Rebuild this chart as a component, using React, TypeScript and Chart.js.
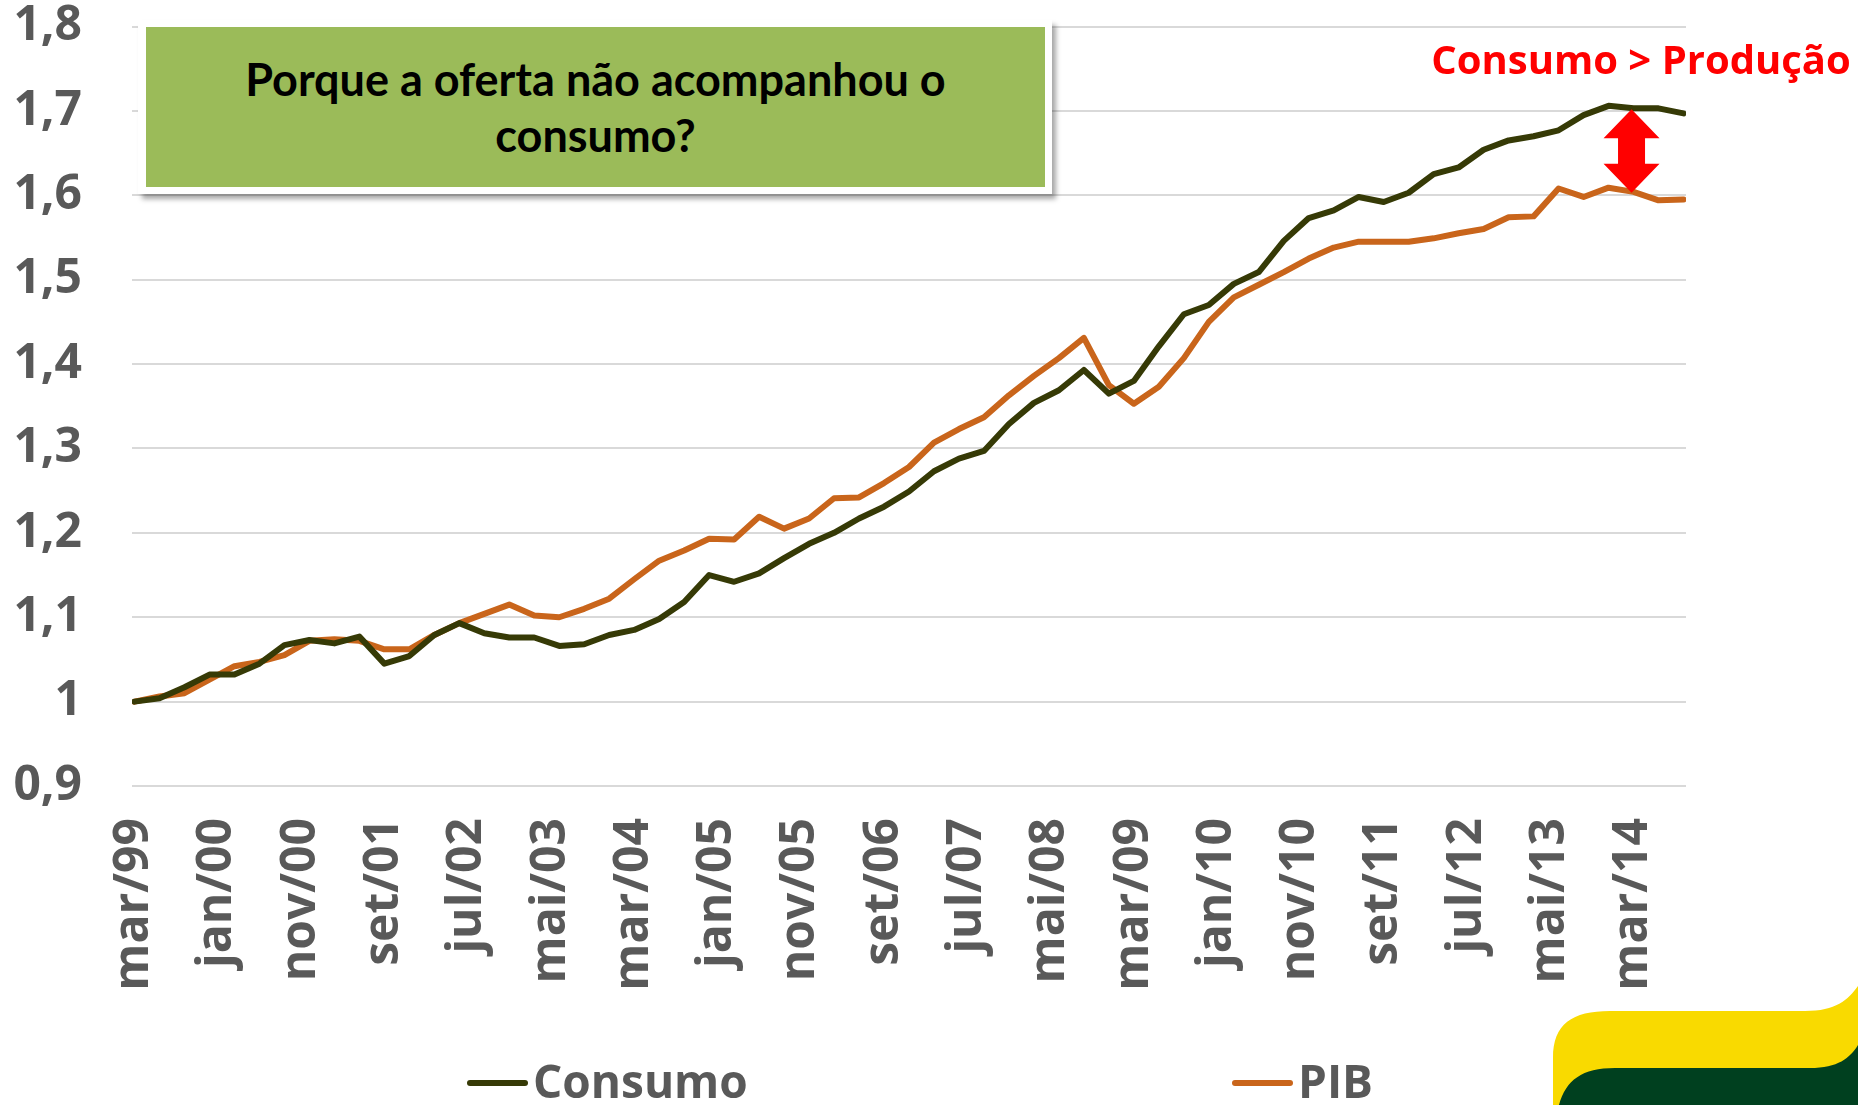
import React, { useEffect, useRef } from "react";
import { Chart, registerables } from "chart.js";

Chart.register(...registerables);

const MONTHS = ["jan", "fev", "mar", "abr", "mai", "jun", "jul", "ago", "set", "out", "nov", "dez"];

const quarterLabels = [
  "mar/99", "jun/99", "set/99", "dez/99",
  "mar/00", "jun/00", "set/00", "dez/00",
  "mar/01", "jun/01", "set/01", "dez/01",
  "mar/02", "jun/02", "set/02", "dez/02",
  "mar/03", "jun/03", "set/03", "dez/03",
  "mar/04", "jun/04", "set/04", "dez/04",
  "mar/05", "jun/05", "set/05", "dez/05",
  "mar/06", "jun/06", "set/06", "dez/06",
  "mar/07", "jun/07", "set/07", "dez/07",
  "mar/08", "jun/08", "set/08", "dez/08",
  "mar/09", "jun/09", "set/09", "dez/09",
  "mar/10", "jun/10", "set/10", "dez/10",
  "mar/11", "jun/11", "set/11", "dez/11",
  "mar/12", "jun/12", "set/12", "dez/12",
  "mar/13", "jun/13", "set/13", "dez/13",
  "mar/14", "jun/14", "set/14",
];

const consumo = [
  1.000, 1.004, 1.017, 1.032,
  1.032, 1.045, 1.067, 1.073,
  1.069, 1.077, 1.045, 1.054,
  1.079, 1.093, 1.081, 1.076,
  1.076, 1.066, 1.068, 1.079,
  1.085, 1.098, 1.118, 1.150,
  1.142, 1.152, 1.170, 1.187,
  1.200, 1.217, 1.231, 1.249,
  1.273, 1.288, 1.297, 1.329,
  1.354, 1.369, 1.393, 1.365,
  1.380, 1.421, 1.459, 1.470,
  1.495, 1.509, 1.546, 1.573,
  1.582, 1.598, 1.592, 1.603,
  1.625, 1.633, 1.654, 1.665,
  1.670, 1.677, 1.695, 1.706,
  1.703, 1.703, 1.697,
];

const pib = [
  1.000, 1.006, 1.010, 1.026,
  1.042, 1.047, 1.055, 1.072,
  1.074, 1.072, 1.062, 1.062,
  1.079, 1.093, 1.104, 1.115,
  1.102, 1.100, 1.110, 1.122,
  1.145, 1.167, 1.179, 1.193,
  1.192, 1.219, 1.205, 1.217,
  1.241, 1.242, 1.259, 1.278,
  1.307, 1.323, 1.337, 1.363,
  1.386, 1.407, 1.431, 1.375,
  1.353, 1.373, 1.407, 1.450,
  1.479, 1.494, 1.509, 1.525,
  1.538, 1.545, 1.545, 1.545,
  1.549, 1.555, 1.560, 1.574,
  1.575, 1.608, 1.598, 1.609,
  1.604, 1.594, 1.595,
];

const xTickLabels = [
  "mar/99", "jan/00", "nov/00", "set/01", "jul/02", "mai/03", "mar/04",
  "jan/05", "nov/05", "set/06", "jul/07", "mai/08", "mar/09", "jan/10",
  "nov/10", "set/11", "jul/12", "mai/13", "mar/14",
];

const yTickValues = [0.9, 1.0, 1.1, 1.2, 1.3, 1.4, 1.5, 1.6, 1.7, 1.8];
const yTickLabels = ["0,9", "1", "1,1", "1,2", "1,3", "1,4", "1,5", "1,6", "1,7", "1,8"];

const seriesNames = ["Consumo", "PIB"];
const seriesColors = ["#363A06", "#C9651B"];

const titleLines = ["Porque a oferta não acompanhou o", "consumo?"];
const gapLabel = "Consumo > Produção";
const gapArrowAt = "mar/14";
const gapArrowFrom = 1.702;
const gapArrowTo = 1.603;

function monthOffset(label: string): number {
  const [m, y] = label.split("/");
  const yy = parseInt(y, 10);
  const year = yy > 50 ? 1900 + yy : 2000 + yy;
  return (year - 1999) * 12 + MONTHS.indexOf(m) - 2;
}

const arrowPlugin = {
  id: "gapArrow",
  afterDatasetsDraw(chart: any) {
    const { ctx, scales } = chart;
    const x = scales.x.getPixelForValue(monthOffset(gapArrowAt)) - 2;
    const yTop = scales.y.getPixelForValue(gapArrowFrom);
    const yBot = scales.y.getPixelForValue(gapArrowTo);
    const hw = 28;
    const sw = 13.5;
    const hl = 29;
    ctx.save();
    ctx.fillStyle = "#FF0000";
    ctx.beginPath();
    ctx.moveTo(x, yTop);
    ctx.lineTo(x + hw, yTop + hl);
    ctx.lineTo(x + sw, yTop + hl);
    ctx.lineTo(x + sw, yBot - hl);
    ctx.lineTo(x + hw, yBot - hl);
    ctx.lineTo(x, yBot);
    ctx.lineTo(x - hw, yBot - hl);
    ctx.lineTo(x - sw, yBot - hl);
    ctx.lineTo(x - sw, yTop + hl);
    ctx.lineTo(x - hw, yTop + hl);
    ctx.closePath();
    ctx.fill();
    ctx.restore();
  },
};

const logoPlugin = {
  id: "logo",
  afterDraw(chart: any) {
    const { ctx } = chart;
    ctx.save();
    ctx.fillStyle = "#F9DA00";
    ctx.beginPath();
    ctx.moveTo(1553, 1105);
    ctx.lineTo(1553, 1058);
    ctx.bezierCurveTo(1553, 1024, 1572, 1011, 1610, 1011);
    ctx.lineTo(1805, 1011);
    ctx.bezierCurveTo(1836, 1011, 1848, 1000, 1858, 986);
    ctx.lineTo(1858, 1105);
    ctx.closePath();
    ctx.fill();
    ctx.fillStyle = "#00401F";
    ctx.beginPath();
    ctx.moveTo(1559, 1105);
    ctx.bezierCurveTo(1566, 1080, 1582, 1068, 1615, 1068);
    ctx.lineTo(1810, 1068);
    ctx.bezierCurveTo(1838, 1068, 1850, 1058, 1858, 1045);
    ctx.lineTo(1858, 1105);
    ctx.closePath();
    ctx.fill();
    ctx.restore();
  },
};

export default function App() {
  const canvasRef = useRef<HTMLCanvasElement | null>(null);

  useEffect(() => {
    const canvas = canvasRef.current;
    if (!canvas) return;
    const tickFont = { family: "'Open Sans', sans-serif", weight: "bold" as const, size: 48 };
    const chart = new Chart(canvas, {
      type: "line",
      data: {
        datasets: [consumo, pib].map((series, si) => ({
          label: seriesNames[si],
          data: quarterLabels.map((q, i) => ({ x: monthOffset(q), y: series[i] })),
          borderColor: seriesColors[si],
          backgroundColor: seriesColors[si],
          borderWidth: 6,
          pointRadius: 0,
          pointHoverRadius: 0,
          tension: 0,
          borderJoinStyle: "round" as const,
          borderCapStyle: "round" as const,
          fill: false,
        })),
      },
      options: {
        animation: false,
        responsive: false,
        maintainAspectRatio: false,
        events: [],
        layout: { padding: { top: 26.5, right: 172, bottom: 0, left: 0 } },
        plugins: {
          legend: { display: false },
          tooltip: { enabled: false },
          title: { display: false },
        },
        scales: {
          x: {
            type: "linear",
            min: -0.3,
            max: 186.3,
            grid: { display: false },
            border: { display: false },
            afterBuildTicks: (s: any) => {
              s.ticks = xTickLabels.map((l) => ({ value: monthOffset(l) }));
            },
            afterFit: (s: any) => {
              s.height = 319;
              s.paddingLeft = 0;
              s.paddingRight = 0;
            },
            ticks: {
              autoSkip: false,
              minRotation: 90,
              maxRotation: 90,
              padding: 24,
              color: "#595959",
              font: { ...tickFont, lineHeight: 1.2 },
              callback: (_v: any, i: number) => xTickLabels[i],
            },
          },
          y: {
            type: "linear",
            min: 0.9,
            max: 1.8,
            afterBuildTicks: (s: any) => {
              s.ticks = yTickValues.map((v) => ({ value: v }));
            },
            afterFit: (s: any) => {
              s.width = 132;
              s.paddingTop = 0;
              s.paddingBottom = 0;
            },
            grid: { color: "#D9D9D9", lineWidth: 2, drawTicks: false },
            border: { display: false },
            ticks: {
              padding: 50,
              color: "#595959",
              font: { ...tickFont, lineHeight: 1 },
              callback: (_v: any, i: number) => yTickLabels[i],
            },
          },
        },
      },
      plugins: [arrowPlugin, logoPlugin],
    });
    return () => chart.destroy();
  }, []);

  const legendText: React.CSSProperties = {
    position: "absolute",
    top: 1057,
    fontFamily: "'Open Sans', sans-serif",
    fontWeight: 700,
    fontSize: 46,
    lineHeight: "46px",
    color: "#595959",
    whiteSpace: "nowrap",
  };
  const legendLine = (left: number, color: string): React.CSSProperties => ({
    position: "absolute",
    left,
    top: 1080,
    width: 61,
    height: 6,
    borderRadius: 3,
    background: color,
  });

  return (
    <div
      style={{
        position: "fixed",
        left: 0,
        top: 0,
        width: 1858,
        height: 1105,
        background: "#FFFFFF",
        overflow: "hidden",
      }}
    >
      <canvas
        ref={canvasRef}
        width={1858}
        height={1105}
        style={{ position: "absolute", left: 0, top: 0, width: 1858, height: 1105 }}
      />
      <div
        style={{
          position: "absolute",
          left: 138,
          top: 20,
          width: 914,
          height: 174,
          background: "#FFFFFF",
          boxShadow: "4px 5px 5px rgba(0,0,0,0.35)",
        }}
      />
      <div
        style={{
          position: "absolute",
          left: 146,
          top: 27,
          width: 899,
          height: 160,
          background: "#9BBB59",
          display: "flex",
          flexDirection: "column",
          alignItems: "center",
          justifyContent: "center",
          fontFamily: "Lato, sans-serif",
          fontWeight: 700,
          fontSize: 45,
          lineHeight: "56px",
          color: "#000000",
          textAlign: "center",
        }}
      >
        {titleLines.map((t) => (
          <div key={t} style={{ whiteSpace: "nowrap" }}>{t}</div>
        ))}
      </div>
      <div
        style={{
          position: "absolute",
          left: 1341,
          width: 600,
          top: 34,
          textAlign: "center",
          fontFamily: "'Open Sans', sans-serif",
          fontWeight: 700,
          fontSize: 40,
          lineHeight: "50px",
          color: "#FF0000",
          whiteSpace: "nowrap",
        }}
      >
        {gapLabel}
      </div>
      <div style={legendLine(467, seriesColors[0])} />
      <div style={{ ...legendText, left: 533 }}>{seriesNames[0]}</div>
      <div style={legendLine(1232, seriesColors[1])} />
      <div style={{ ...legendText, left: 1298 }}>{seriesNames[1]}</div>
    </div>
  );
}
